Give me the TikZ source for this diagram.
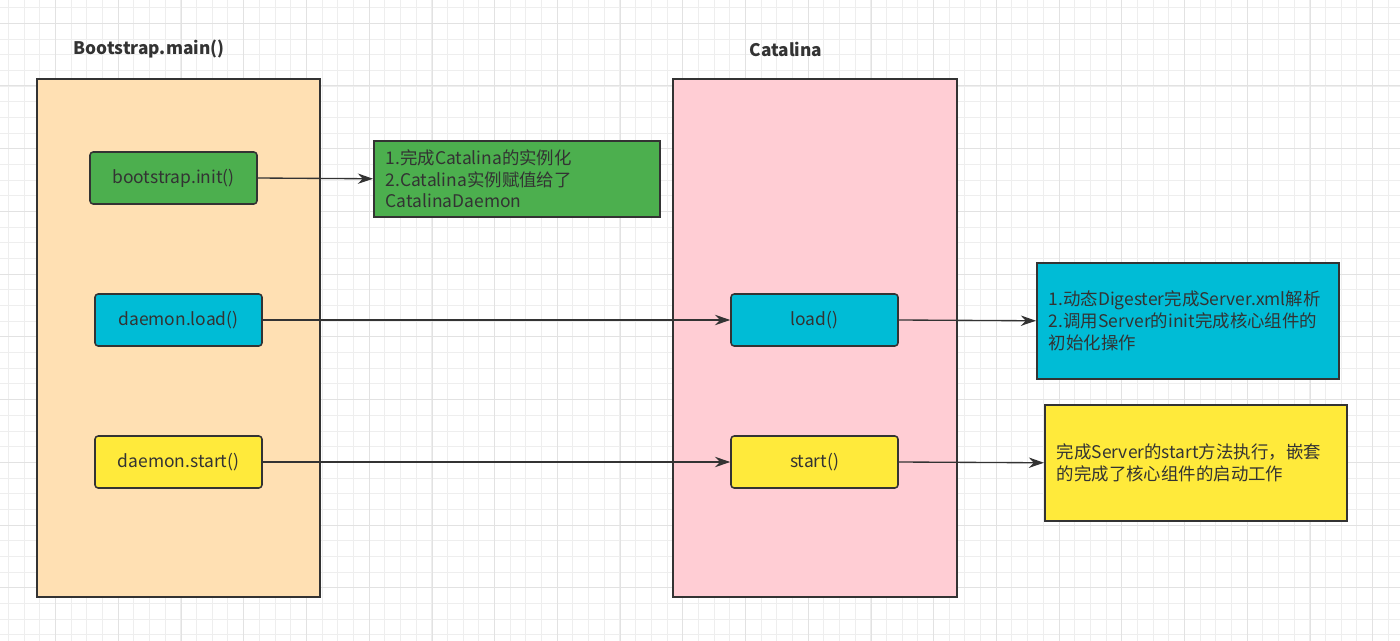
\documentclass[tikz,border=0pt]{standalone}
\usepackage{fontspec}
\setmainfont{Noto Sans CJK SC}
\usetikzlibrary{arrows.meta,calc}
\definecolor{ink}{HTML}{333333}
\definecolor{peach}{HTML}{FFE0B3}
\definecolor{blush}{HTML}{FFCDD4}
\definecolor{leaf}{HTML}{4CAF4E}
\definecolor{aqua}{HTML}{00BCD6}
\definecolor{lemon}{HTML}{FFEA3B}
\definecolor{gridminor}{HTML}{EEEEEE}
\definecolor{gridmajor}{HTML}{E2E2E2}
\newcommand{\fine}{\fontsize{12.4}{15.6}\selectfont}
\newcommand{\head}{\fontsize{12.3}{14}\selectfont\bfseries}
\tikzset{
  call/.style={draw=ink,line width=1.1pt,rounded corners=0.8mm,minimum width=41.75mm,minimum height=13mm,inner sep=0,text=ink,font=\fine},
  note/.style={draw=ink,line width=1.1pt,align=left,inner xsep=3mm,inner ysep=0,anchor=north west,text=ink,font=\fine},
  flow/.style={ink,line width=0.95pt,-{Stealth[length=3.8mm,width=2.6mm]}}
}

\begin{document}
\begin{tikzpicture}[x=0.25mm,y=-0.25mm]
\useasboundingbox (0,0) rectangle (1400,641);
\fill[white] (0,0) rectangle (1400,641);
\foreach \i in {0,...,89} \draw[gridminor,line width=0.5pt] ({8.3+15.68*\i},0) -- ({8.3+15.68*\i},641);
\foreach \j in {0,...,40} \draw[gridminor,line width=0.5pt] (0,{7.5+15.68*\j}) -- (1400,{7.5+15.68*\j});
\foreach \i in {1,...,22} \draw[gridmajor,line width=0.6pt] ({-7.1+62.72*\i},0) -- ({-7.1+62.72*\i},641);
\foreach \j in {0,...,9} \draw[gridmajor,line width=0.6pt] (0,{23.2+62.72*\j}) -- (1400,{23.2+62.72*\j});

\filldraw[draw=ink,fill=peach,line width=1.1pt] (37,79) rectangle (320,597);
\filldraw[draw=ink,fill=blush,line width=1.1pt] (673,79) rectangle (957,597);
\node[font=\head,text=ink] (maintitle) at (149,49) {Bootstrap.main()};
\node[font=\head,text=ink] (catatitle) at (786,49) {Catalina};

\node[call,fill=leaf] (init) at (173.5,178) {bootstrap.init()};
\node[call,fill=aqua] (dload) at (178.5,320) {daemon.load()};
\node[call,fill=lemon] (dstart) at (178.5,462) {daemon.start()};
\node[call,fill=aqua] (load) at (814.5,320) {load()};
\node[call,fill=lemon] (start) at (814.5,462) {start()};

\node[note,fill=leaf,text width=65.5mm,minimum height=19mm] (initnote) at (373,140) {1.完成Catalina的实例化\\2.Catalina实例赋值给了\\CatalinaDaemon};
\node[note,fill=aqua,text width=69.5mm,minimum height=29mm] (loadnote) at (1036,262) {1.动态Digester完成Server.xml解析\\2.调用Server的init完成核心组件的\\初始化操作};
\node[note,fill=lemon,text width=69.5mm,minimum height=29mm] (startnote) at (1044,404) {完成Server的start方法执行，嵌套\\的完成了核心组件的启动工作};

\draw[flow] (init.east) -- (initnote.west);
\draw[flow] (dload.east) -- (load.west);
\draw[flow] (load.east) -- (loadnote.west);
\draw[flow] (dstart.east) -- (start.west);
\draw[flow] (start.east) -- (startnote.west);
\end{tikzpicture}
\end{document}
